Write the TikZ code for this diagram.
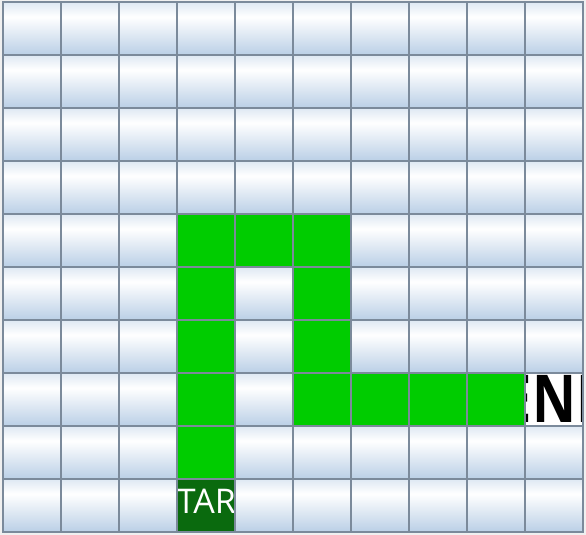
\documentclass[tikz,border=0pt]{standalone}
\usepackage{graphicx}
\usepackage{fontspec}
\setmainfont{Open Sans}
\usepackage{xcolor}
\usepackage{tikz}

\definecolor{bggray}{RGB}{240,240,240}
\definecolor{gridline}{RGB}{123,138,155}
\definecolor{celltop}{RGB}{222,232,243}
\definecolor{cellbot}{RGB}{186,207,230}
\definecolor{pathgreen}{RGB}{0,204,0}
\definecolor{startgreen}{RGB}{10,106,14}

\pgfdeclareverticalshading{cellshade}{100bp}{color(0bp)=(cellbot); color(25bp)=(cellbot);
  color(61bp)=(white); color(75bp)=(celltop); color(100bp)=(celltop)}

\begin{document}
\begin{tikzpicture}[
    x=1pt, y=1pt,
    cell/.style={draw=gridline, line width=2pt, shading=cellshade},
    walk/.style={draw=gridline, line width=2pt, fill=pathgreen},
    startcell/.style={fill=startgreen},
    endcell/.style={fill=white},
    border/.style={draw=gridline, line width=2pt},
    starttext/.style={text=white, anchor=base, inner sep=0pt,
                      font=\fontsize{34}{34}\selectfont},
    endtext/.style={text=black, anchor=base, inner sep=0pt,
                    font=\fontsize{66}{66}\selectfont\bfseries}
]
\fill[bggray] (0,0) rectangle (586,535);

% grid of 10 x 10 cells, row 0 at the top
\foreach \r in {0,...,9}
  \foreach \c in {0,...,9}
    \path[cell] (3+58*\c, 533-53*\r) rectangle ++(58,-53);

% the path
\foreach \c/\r in {3/4,4/4,5/4,3/5,5/5,3/6,5/6,3/7,5/7,6/7,7/7,8/7,3/8}
  \path[walk] (3+58*\c, 533-53*\r) rectangle ++(58,-53);

% start and end cells
\fill[startcell] (177,56) rectangle (235,3);
\fill[endcell] (525,162) rectangle (583,109);
\begin{scope}
  \clip (177,56) rectangle (235,3);
  \node[starttext] (start) at (206.5,21) {START};
\end{scope}
\begin{scope}
  \clip (525,162) rectangle (583,109);
  \node[endtext] (finish) at (559,112) {\scalebox{0.82}[1]{END}};
\end{scope}
\draw[border] (177,56) rectangle (235,3);
\draw[border] (525,162) rectangle (583,109);
\end{tikzpicture}
\end{document}
